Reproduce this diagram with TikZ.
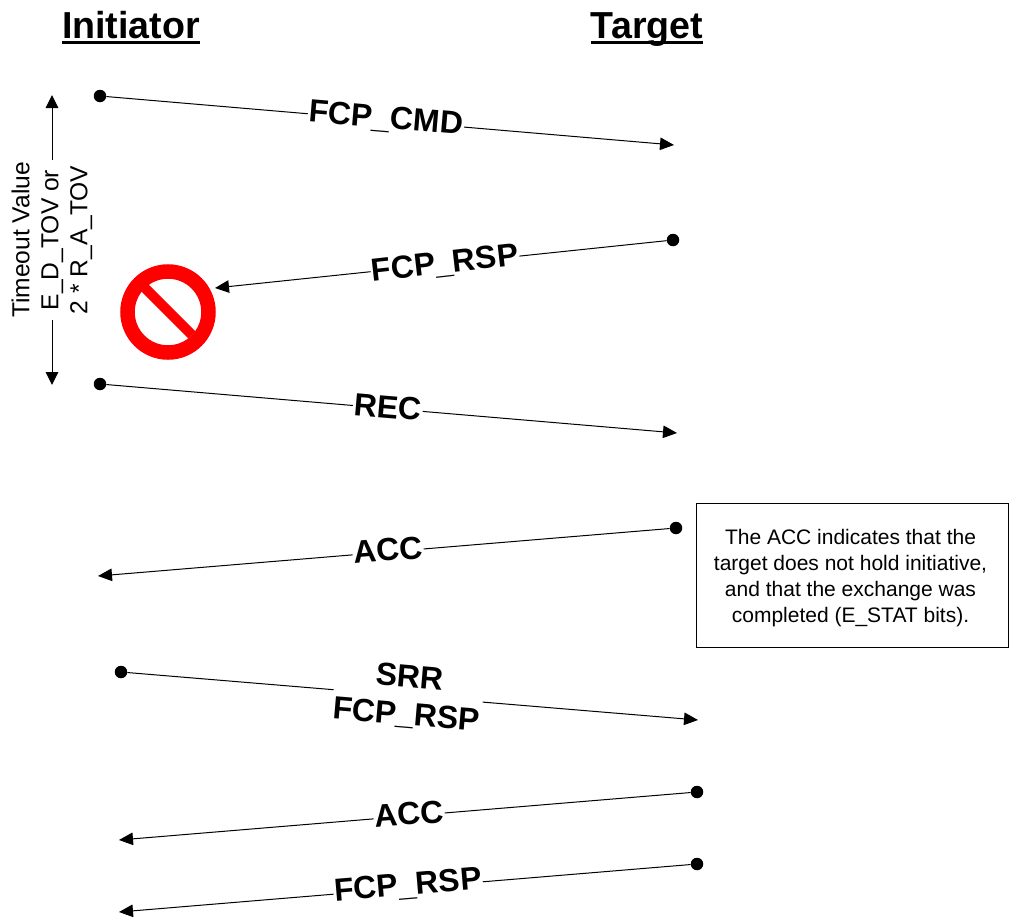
\documentclass[tikz,border=0pt]{standalone}
\usepackage{fontspec}
\setmainfont{Liberation Sans}
\usetikzlibrary{arrows.meta}
\newcommand{\ttlul}[1]{\setbox0\hbox{#1}\leavevmode\rlap{\rule[-5.5pt]{\wd0}{3pt}}\box0}
\tikzset{
 dotn/.style={circle,fill=black,inner sep=0pt,minimum size=12.5pt},
 msg/.style={line width=1pt,-{Triangle[length=14pt,width=12.5pt]}},
 tov/.style={line width=1pt,-{Triangle[length=13pt,width=12.5pt]}},
 lab/.style={fill=white,font=\fontsize{32}{34}\selectfont\bfseries,inner xsep=1pt,inner ysep=1pt},
 ttl/.style={font=\fontsize{37.6}{40}\selectfont\bfseries,inner sep=0pt,anchor=base},
 side/.style={font=\fontsize{24.6}{29}\selectfont,rotate=90,inner sep=0pt,align=center},
 notebox/.style={draw=black,line width=1pt,inner sep=0pt,minimum width=312pt,minimum height=144pt},
 notetxt/.style={font=\fontsize{21}{26}\selectfont,align=center,inner sep=0pt},
}
\begin{document}
\begin{tikzpicture}[x=1pt,y=-1pt]
\useasboundingbox (0,0) rectangle (1013,922);
\node[ttl] (ini) at (131,38) {\ttlul{Initiator}};
\node[ttl] (tgt) at (647,38) {\ttlul{Target}};
% dots and ends
\node[dotn] (a1) at (100,96) {}; \coordinate (b1) at (674,145);
\node[dotn] (a2) at (673,240) {}; \coordinate (b2) at (215,288);
\node[dotn] (a3) at (100,384) {}; \coordinate (b3) at (677,433);
\node[dotn] (a4) at (676,528) {}; \coordinate (b4) at (98,576);
\node[dotn] (a5) at (121,672) {}; \coordinate (b5) at (698,720);
\node[dotn] (a6) at (697,792) {}; \coordinate (b6) at (119,840);
\node[dotn] (a7) at (697,864) {}; \coordinate (b7) at (119,912);
\foreach \i in {1,...,7} \draw[msg] (a\i) -- (b\i);
\node[lab,rotate=-4.8] (l1) at (386,119) {FCP\_CMD};
\node[lab,rotate=6.5] (l2) at (445,264) {FCP\_RSP};
\node[lab,rotate=-4.8] (l3) at (388,407) {REC};
\node[lab,rotate=4.8] (l4) at (388,550) {ACC};
\node[lab,rotate=-4.8,align=center,font=\fontsize{32}{37}\selectfont\bfseries] (l5) at (408,697) {SRR\\FCP\_RSP};
\node[lab,rotate=4.8] (l6) at (409,814) {ACC};
\node[lab,rotate=4.8] (l7) at (408,886) {FCP\_RSP};
% timeout
\node[side] (tv) at (52,240) {Timeout Value\\E\_D\_TOV or\\2 * R\_A\_TOV};
\coordinate (tt) at (52,95); \coordinate (tb) at (52,385);
\coordinate (ts) at (52,160); \coordinate (te) at (52,320);
\draw[tov] (ts) -- (tt);
\draw[tov] (te) -- (tb);
% prohibition sign
\draw[red,line width=14.5pt] (168,312) circle (40.5pt);
\draw[red,line width=10pt] (143,286) -- (192,335);
\node[notebox] (n) at (852.5,575.5) {};
\node[notetxt] (nt) at (850.5,578) {The ACC indicates that the\\target does not hold initiative,\\and that the exchange was\\completed (E\_STAT bits).};
\end{tikzpicture}
\end{document}
